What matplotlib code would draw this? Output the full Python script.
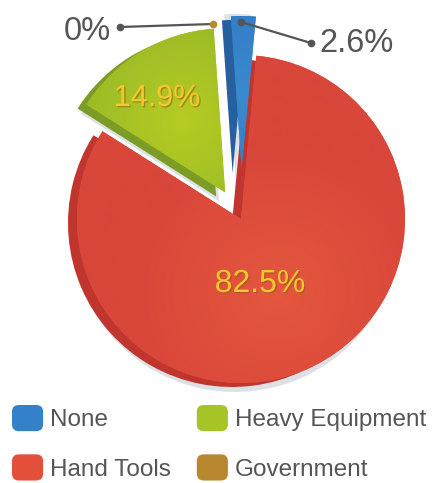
import numpy as np
import matplotlib.pyplot as plt
import matplotlib.patheffects as pe
from matplotlib.colors import to_rgb
from matplotlib.patches import FancyBboxPatch, Wedge
from matplotlib.legend_handler import HandlerPatch

categories = ['None', 'Hand Tools', 'Heavy Equipment', 'Government']
shares = [2.6, 82.5, 14.9, 0.0]
labels = ['2.6%', '82.5%', '14.9%', '0%']

face_colors = ['#3581c9', '#e2503c', '#a4c427', '#b8872f']
side_colors = ['#27609f', '#c1352f', '#7d9c26', '#8c6422']
# inner / outer tones for the shaded top faces
glow_colors = [('#3a8ad0', '#2f76bf'), ('#e5573f', '#d9463a'),
               ('#b7cb22', '#8db42a'), ('#c59533', '#a87a2a')]
text_gray = '#555555'
label_yellow = '#f6c72f'

W, H = 435, 483
plt.rcParams['font.family'] = ['Liberation Sans', 'DejaVu Sans']

fig = plt.figure(figsize=(W / 100, H / 100), dpi=100)
ax = fig.add_axes([0, 0, 1, 1])


def px(x, y):
    # pixel position (origin top-left) -> data coords
    return x, H - y


def shade_wedge(ax, wedge, inner, outer):
    # radial gradient laid over a wedge and clipped to it
    x0, y0 = wedge.center
    r = wedge.r
    t = np.radians((wedge.theta1 + wedge.theta2) / 2)
    gx, gy = x0 + 0.5 * r * np.cos(t), y0 + 0.5 * r * np.sin(t)
    xs = np.linspace(x0 - r, x0 + r, 200)
    ys = np.linspace(y0 - r, y0 + r, 200)
    X, Y = np.meshgrid(xs, ys)
    d = np.clip(np.hypot(X - gx, Y - gy) / (0.9 * r), 0, 1)[..., None]
    img = (1 - d) * np.array(to_rgb(inner)) + d * np.array(to_rgb(outer))
    im = ax.imshow(img, extent=(x0 - r, x0 + r, y0 - r, y0 + r),
                   origin='lower', interpolation='bilinear', zorder=wedge.get_zorder())
    im.set_clip_path(wedge)


cx, cy = px(241, 219)
radius = 164
explode = [50, 0, 31, 0]
pie_kw = dict(explode=explode, radius=radius, startangle=94,
              counterclock=False, wedgeprops=dict(linewidth=0))

# soft drop shadow, then a darker copy for the extruded side of each slice
ax.pie(shares, colors=['#dde1e6'] * 4, center=(cx - 6, cy - 9), **pie_kw)
side, _ = ax.pie(shares, colors=side_colors, center=(cx - 9, cy - 4), **pie_kw)
face, _ = ax.pie(shares, colors=face_colors, center=(cx, cy), **pie_kw)
for w in (side[0], face[0]):
    w.set_radius(153)
for w, (inner, outer), s in zip(face, glow_colors, shares):
    if s > 0:
        shade_wedge(ax, w, inner, outer)

ax.set_xlim(0, W)
ax.set_ylim(0, H)
ax.set_aspect('equal')
ax.axis('off')

shadow = [pe.withSimplePatchShadow(offset=(1, -1), shadow_rgbFace='#8a5a10', alpha=0.5)]
ax.text(*px(260, 284), labels[1], color=label_yellow, fontsize=23,
        ha='center', va='center', path_effects=shadow, zorder=5)
ax.text(*px(157, 98), labels[2], color=label_yellow, fontsize=22,
        ha='center', va='center', path_effects=shadow, zorder=5)

# leader lines for the two thin slices
x0, y0 = px(241, 22)
x1, y1 = px(311, 43)
ax.plot([x0, x1], [y0, y1], color=text_gray, lw=1.6, marker='o', ms=4.5, zorder=5)
ax.text(*px(357, 43), labels[0], color=text_gray, fontsize=23.5,
        ha='center', va='center')

x0, y0 = px(120, 27)
x1, y1 = px(213, 24)
ax.plot([x0, x1], [y0, y1], color=text_gray, lw=1.6)
ax.plot([x0], [y0], 'o', color=text_gray, ms=4.5)
ax.plot([x1], [y1], 'o', color=face_colors[3], ms=4.5)
ax.text(*px(87, 31), labels[3], color=text_gray, fontsize=23.5,
        ha='center', va='center')


def rounded_square(legend, orig_handle, xdescent, ydescent, width, height, fontsize):
    return FancyBboxPatch((-xdescent, -ydescent), width, height,
                          boxstyle='round,pad=0,rounding_size=5')


ax.legend(face, categories, ncol=2, loc='upper left',
          bbox_to_anchor=(12 / W, 1 - 405 / H), frameon=False,
          fontsize=17.5, labelcolor=text_gray,
          handlelength=1.28, handleheight=1.28, handletextpad=0.3,
          columnspacing=1.05, labelspacing=0.95,
          borderpad=0, borderaxespad=0,
          handler_map={Wedge: HandlerPatch(patch_func=rounded_square)})

fig.savefig('out.png', dpi=100)
